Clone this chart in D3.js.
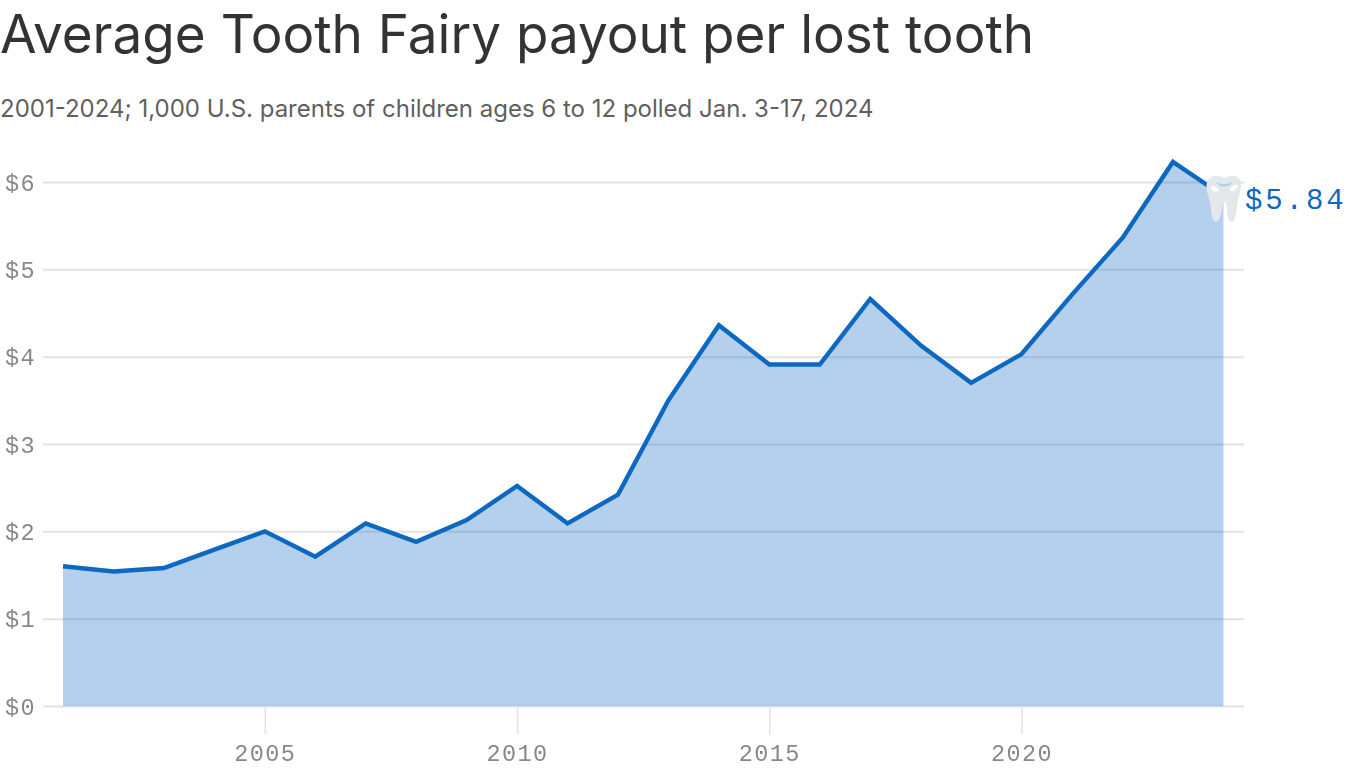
<!DOCTYPE html>
<html>
<head>
<meta charset="utf-8">
<script src="https://cdn.jsdelivr.net/npm/d3@7"></script>
<style>
	html, body { margin: 0; padding: 0; background: #fff; overflow: hidden; }
	svg { display: block; }
	text { font-family: "Liberation Mono", monospace; }
	.title, .subtitle { font-family: Inter, sans-serif; }
	.axis text { fill: #888888; font-size: 23.5px; letter-spacing: 1.4px; }
	.soft { opacity: 0.999; }
</style>
</head>
<body>
<div id="chart"></div>
<script>
// Values
const years = [2001, 2002, 2003, 2004, 2005, 2006, 2007, 2008, 2009, 2010, 2011, 2012,
	2013, 2014, 2015, 2016, 2017, 2018, 2019, 2020, 2021, 2022, 2023, 2024];
const payouts = [1.60, 1.54, 1.58, 1.79, 2.00, 1.71, 2.09, 1.88, 2.13, 2.52, 2.09, 2.42,
	3.50, 4.36, 3.91, 3.91, 4.66, 4.13, 3.70, 4.03, 4.71, 5.36, 6.23, 5.84];
const xTicks = [2005, 2010, 2015, 2020];
const yTicks = [0, 1, 2, 3, 4, 5, 6];
const titleText = "Average Tooth Fairy payout per lost tooth";
const subtitleText = "2001-2024; 1,000 U.S. parents of children ages 6 to 12 polled Jan. 3-17, 2024";
const lastLabel = "$5.84";

const width = 1366, height = 768;
const blue = "#0d68c1";

const data = years.map((y, i) => ({year: y, value: payouts[i]}));

const svg = d3.select("#chart").append("svg")
	.attr("width", width)
	.attr("height", height);

const head = svg.append("g").attr("class", "soft");

head.append("text")
	.attr("class", "title")
	.attr("x", 0).attr("y", 53)
	.attr("font-size", 53)
	.attr("fill", "#333333")
	.text(titleText);

head.append("text")
	.attr("class", "subtitle")
	.attr("x", 0).attr("y", 117)
	.attr("font-size", 24)
	.attr("fill", "#5f5f5f")
	.text(subtitleText);

// Scales
const x = d3.scaleLinear().domain([2001, 2024]).range([63, 1223.4]);
const y = d3.scaleLinear().domain([0, 6]).range([706, 182]);

// Gridlines and labels come from the y axis
const yAxis = d3.axisLeft(y)
	.tickValues(yTicks)
	.tickFormat(d => "$" + d)
	.tickSize(0)
	.tickPadding(0);

const yG = svg.append("g")
	.attr("class", "axis y-axis soft")
	.call(yAxis);
yG.select(".domain").remove();
yG.selectAll("text")
	.attr("x", 5)
	.attr("text-anchor", "start")
	.attr("dy", "0.34em");
yG.selectAll(".tick").append("line")
	.attr("x1", 43).attr("x2", 1244)
	.attr("stroke", "#e2e2e2")
	.attr("stroke-width", 2);

// X axis
const xAxis = d3.axisBottom(x)
	.tickValues(xTicks)
	.tickFormat(d3.format("d"))
	.tickSize(0)
	.tickPadding(0);

const xG = svg.append("g")
	.attr("class", "axis x-axis soft")
	.attr("transform", "translate(0,706)")
	.call(xAxis);
xG.select(".domain").remove();
xG.selectAll("text").attr("y", 47).attr("dy", "0.34em");
xG.selectAll(".tick").append("line")
	.attr("y1", 0).attr("y2", 28)
	.attr("stroke", "#e2e2e2")
	.attr("stroke-width", 1.5);

// Area and line
const area = d3.area()
	.x(d => x(d.year))
	.y0(y(0))
	.y1(d => y(d.value));

const line = d3.line()
	.x(d => x(d.year))
	.y(d => y(d.value));

svg.append("path")
	.datum(data)
	.attr("d", area)
	.attr("fill", blue)
	.attr("fill-opacity", 0.31);

svg.append("path")
	.datum(data)
	.attr("d", line)
	.attr("fill", "none")
	.attr("stroke", blue)
	.attr("stroke-width", 4.4)
	.attr("stroke-linejoin", "miter");

// Tooth marker sits on the last point
const last = data[data.length - 1];
const tooth = svg.append("g")
	.attr("transform", "translate(" + x(last.year) + "," + y(last.value) + ")");

tooth.append("path")
	.attr("d", "M-16,-15 C-12,-22 -5,-21 1,-18 C7,-21 14,-22 17,-15 C19,-7 15,0 14,8 C13,17 12,26 8,26 C4,26 4,16 3,9 C2,5 0,5 -1,9 C-2,17 -3,26 -8,26 C-12,25 -12,14 -13,8 C-14,1 -19,-6 -16,-15 Z")
	.attr("fill", "#e3e8eb");
tooth.append("path")
	.attr("d", "M-7,-14 C-2,-11 4,-11 9,-14 C6,-8 -4,-8 -7,-14 Z")
	.attr("fill", "#a9d3e3");
tooth.append("path")
	.attr("d", "M-13,-9 C-10,-11 -7,-10 -4,-6 C-8,-3 -11,-4 -13,-9 Z M15,-11 C13,-6 9,-3 6,-6 C8,-10 11,-12 15,-11 Z")
	.attr("fill", "#ffffff");

svg.append("text")
	.attr("class", "soft")
	.attr("x", 1245)
	.attr("y", 209)
	.attr("font-size", 29)
	.attr("letter-spacing", 2.9)
	.attr("fill", blue)
	.text(lastLabel);
</script>
</body>
</html>
